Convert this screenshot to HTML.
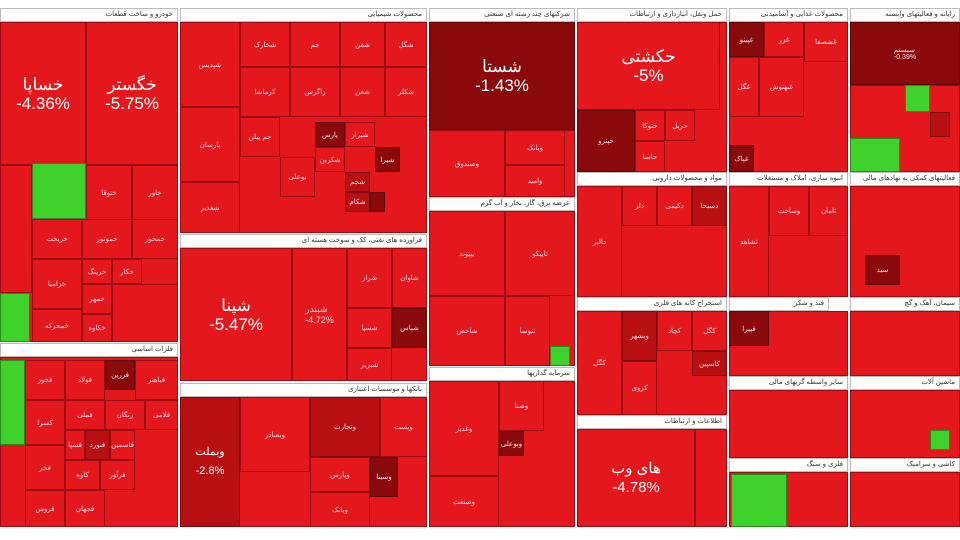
<!DOCTYPE html>
<html><head><meta charset="utf-8"><style>
body{margin:0;width:960px;height:540px;background:#fff;position:relative;overflow:hidden;font-family:"Liberation Sans","Noto Sans CJK SC",sans-serif}
div{position:absolute;box-sizing:border-box}
.h{background:#fff;border:1px solid #bbb;font-size:7px;color:#333;text-align:right;padding-right:4px;line-height:12px;height:14px;direction:rtl}
.r{background:#e3171c;border:1px solid #9a0d10}
.d{background:#8a0a0c;border:1px solid #5a0506}
.m{background:#b80f13;border:1px solid #7a0a0c}
.g{background:#3fd22a;border:1px solid #2a8a1c}
.t{color:#fff;text-align:center;font-size:17px;line-height:19px;display:flex;align-items:center;justify-content:center;flex-direction:column}
.s{color:#fde;font-size:7px;display:flex;align-items:center;justify-content:center}
</style></head><body>
<!-- col1 -->
<div class="h" style="left:0;top:8px;width:178px">خودرو و ساخت قطعات</div>
<div class="r" style="left:0;top:22px;width:178px;height:320px"></div>
<div class="r t" style="left:0;top:22px;width:86px;height:143px">خساپا<br>-4.36%</div>
<div class="r t" style="left:86px;top:22px;width:92px;height:143px">خگستر<br>-5.75%</div>
<div class="r" style="left:0;top:165px;width:32px;height:128px"></div>
<div class="g" style="left:32px;top:163px;width:54px;height:56px"></div>
<div class="r s" style="left:86px;top:165px;width:46px;height:55px">ختوقا</div>
<div class="r s" style="left:132px;top:165px;width:46px;height:55px">خاور</div>
<div class="r s" style="left:32px;top:219px;width:50px;height:40px">خریخت</div>
<div class="r s" style="left:82px;top:219px;width:50px;height:40px">خموتور</div>
<div class="r s" style="left:132px;top:219px;width:46px;height:40px">خمحور</div>
<div class="r s" style="left:32px;top:259px;width:50px;height:50px">خزامیا</div>
<div class="r s" style="left:82px;top:259px;width:30px;height:25px">خرینگ</div>
<div class="r s" style="left:112px;top:259px;width:30px;height:25px">خکار</div>
<div class="r s" style="left:82px;top:284px;width:30px;height:30px">خمهر</div>
<div class="r s" style="left:32px;top:309px;width:50px;height:33px">خمحرکه</div>
<div class="r s" style="left:82px;top:314px;width:30px;height:28px">خکاوه</div>
<div class="r" style="left:112px;top:284px;width:66px;height:58px"></div>
<div class="g" style="left:0;top:293px;width:30px;height:49px"></div>
<div class="h" style="left:0;top:343px;width:178px">فلزات اساسی</div>
<div class="r" style="left:0;top:357px;width:178px;height:170px"></div>
<div class="g" style="left:0;top:360px;width:25px;height:85px"></div>
<div class="r s" style="left:25px;top:360px;width:40px;height:40px">فخوز</div>
<div class="r s" style="left:65px;top:360px;width:40px;height:40px">فولاد</div>
<div class="d s" style="left:105px;top:360px;width:30px;height:30px">فزرین</div>
<div class="r s" style="left:135px;top:360px;width:43px;height:40px">فباهنر</div>
<div class="r s" style="left:25px;top:400px;width:40px;height:45px">کسرا</div>
<div class="r s" style="left:65px;top:400px;width:40px;height:30px">فملی</div>
<div class="r s" style="left:105px;top:400px;width:40px;height:30px">زنگان</div>
<div class="r s" style="left:145px;top:400px;width:33px;height:30px">فلامی</div>
<div class="r s" style="left:25px;top:445px;width:40px;height:45px">فجر</div>
<div class="r s" style="left:65px;top:430px;width:20px;height:30px">فسپا</div>
<div class="m s" style="left:85px;top:430px;width:25px;height:30px">فنورد</div>
<div class="r s" style="left:110px;top:430px;width:25px;height:30px">فاسمین</div>
<div class="r s" style="left:65px;top:460px;width:35px;height:30px">کاوه</div>
<div class="r s" style="left:100px;top:460px;width:35px;height:30px">فرآور</div>
<div class="r s" style="left:25px;top:490px;width:40px;height:37px">فروس</div>
<div class="r s" style="left:65px;top:490px;width:40px;height:37px">فجهان</div>
<!-- col2 -->
<div class="h" style="left:180px;top:8px;width:247px">محصولات شیمیایی</div>
<div class="r" style="left:180px;top:22px;width:247px;height:211px"></div>
<div class="r s" style="left:180px;top:22px;width:60px;height:85px">شپدیس</div>
<div class="r s" style="left:240px;top:22px;width:50px;height:45px">شخارک</div>
<div class="r s" style="left:290px;top:22px;width:50px;height:45px">جم</div>
<div class="r s" style="left:340px;top:22px;width:45px;height:45px">شفن</div>
<div class="r s" style="left:385px;top:22px;width:42px;height:45px">شگل</div>
<div class="r s" style="left:240px;top:67px;width:50px;height:50px">کرماشا</div>
<div class="r s" style="left:290px;top:67px;width:50px;height:50px">زاگرس</div>
<div class="r s" style="left:340px;top:67px;width:45px;height:50px">شفن</div>
<div class="r s" style="left:385px;top:67px;width:42px;height:50px">شکلر</div>
<div class="r s" style="left:180px;top:107px;width:60px;height:75px">پارسان</div>
<div class="r s" style="left:240px;top:117px;width:40px;height:40px">جم پیلن</div>
<div class="d s" style="left:315px;top:122px;width:30px;height:25px">پارس</div>
<div class="r s" style="left:345px;top:122px;width:30px;height:25px">شیراز</div>
<div class="d s" style="left:375px;top:147px;width:25px;height:25px">شیرا</div>
<div class="r s" style="left:315px;top:147px;width:30px;height:25px">شکربن</div>
<div class="r s" style="left:180px;top:182px;width:60px;height:51px">شغدیر</div>
<div class="r s" style="left:280px;top:157px;width:35px;height:40px">بوعلی</div>
<div class="m s" style="left:345px;top:172px;width:25px;height:20px">شجم</div>
<div class="m s" style="left:345px;top:192px;width:25px;height:20px">شکام</div>
<div class="d" style="left:370px;top:192px;width:15px;height:20px"></div>
<div class="h" style="left:180px;top:234px;width:247px">فراورده های نفتی، کک و سوخت هسته ای</div>
<div class="r" style="left:180px;top:248px;width:247px;height:133px"></div>
<div class="r t" style="left:180px;top:248px;width:112px;height:133px">شپنا<br>-5.47%</div>
<div class="r s" style="left:292px;top:248px;width:55px;height:133px;font-size:9px">شبندر<br>-4.72%</div>
<div class="r s" style="left:347px;top:248px;width:45px;height:60px">شراز</div>
<div class="r s" style="left:392px;top:248px;width:35px;height:60px">شاوان</div>
<div class="r s" style="left:347px;top:308px;width:45px;height:40px">شسپا</div>
<div class="d s" style="left:392px;top:308px;width:35px;height:40px">شپاس</div>
<div class="r s" style="left:347px;top:348px;width:45px;height:33px">شبریز</div>
<div class="h" style="left:180px;top:383px;width:247px">بانکها و موسسات اعتباری</div>
<div class="r" style="left:180px;top:397px;width:247px;height:130px"></div>
<div class="m t" style="left:180px;top:397px;width:60px;height:130px;font-size:11px">وبملت<br>-2.8%</div>
<div class="r s" style="left:240px;top:397px;width:70px;height:75px">وبصادر</div>
<div class="m s" style="left:310px;top:397px;width:70px;height:60px">وتجارت</div>
<div class="r s" style="left:380px;top:397px;width:47px;height:60px">وپست</div>
<div class="r s" style="left:310px;top:457px;width:60px;height:35px">وپارس</div>
<div class="d s" style="left:370px;top:457px;width:28px;height:40px">وسینا</div>
<div class="r s" style="left:310px;top:492px;width:60px;height:35px">وبانک</div>
<!-- col3 -->
<div class="h" style="left:429px;top:8px;width:146px">شرکتهای چند رشته ای صنعتی</div>
<div class="d t" style="left:429px;top:22px;width:146px;height:108px">شستا<br>-1.43%</div>
<div class="r" style="left:429px;top:130px;width:146px;height:67px"></div>
<div class="r s" style="left:429px;top:130px;width:76px;height:67px">وصندوق</div>
<div class="r s" style="left:505px;top:130px;width:60px;height:35px">وبانک</div>
<div class="r s" style="left:505px;top:165px;width:60px;height:32px">وامید</div>
<div class="h" style="left:429px;top:197px;width:146px">عرضه برق، گاز، بخار و آب گرم</div>
<div class="r" style="left:429px;top:211px;width:146px;height:155px"></div>
<div class="r s" style="left:429px;top:211px;width:76px;height:85px">بپیوند</div>
<div class="r s" style="left:505px;top:211px;width:70px;height:85px">تاپیکو</div>
<div class="r s" style="left:429px;top:296px;width:76px;height:70px">شاخص</div>
<div class="r s" style="left:505px;top:296px;width:45px;height:70px">ثنوسا</div>
<div class="g" style="left:550px;top:346px;width:20px;height:20px"></div>
<div class="h" style="left:429px;top:367px;width:146px">سرمایه گذاریها</div>
<div class="r" style="left:429px;top:381px;width:146px;height:146px"></div>
<div class="r s" style="left:429px;top:381px;width:70px;height:95px">وغدیر</div>
<div class="r s" style="left:499px;top:381px;width:45px;height:50px">وصنا</div>
<div class="d s" style="left:499px;top:431px;width:25px;height:25px">وبوعلی</div>
<div class="r s" style="left:429px;top:476px;width:70px;height:51px">وصنعت</div>
<!-- col4 -->
<div class="h" style="left:577px;top:8px;width:150px">حمل ونقل، انبارداری و ارتباطات</div>
<div class="r" style="left:577px;top:22px;width:150px;height:150px"></div>
<div class="r t" style="left:577px;top:22px;width:143px;height:88px">حکشتی<br>-5%</div>
<div class="d s" style="left:577px;top:110px;width:58px;height:62px">حپترو</div>
<div class="r s" style="left:635px;top:110px;width:30px;height:31px">حتوکا</div>
<div class="r s" style="left:665px;top:110px;width:30px;height:31px">حریل</div>
<div class="r s" style="left:635px;top:141px;width:30px;height:31px">حاسا</div>
<div class="h" style="left:577px;top:172px;width:150px">مواد و محصولات دارویی</div>
<div class="r" style="left:577px;top:186px;width:150px;height:111px"></div>
<div class="r s" style="left:577px;top:186px;width:45px;height:111px">دالبر</div>
<div class="r s" style="left:622px;top:186px;width:35px;height:40px">دلر</div>
<div class="r s" style="left:657px;top:186px;width:35px;height:40px">دکیمی</div>
<div class="m s" style="left:692px;top:186px;width:35px;height:40px">دسبحا</div>
<div class="h" style="left:577px;top:297px;width:150px">استخراج کانه های فلزی</div>
<div class="r" style="left:577px;top:311px;width:150px;height:104px"></div>
<div class="r s" style="left:577px;top:311px;width:45px;height:104px">کگل</div>
<div class="m s" style="left:622px;top:311px;width:35px;height:50px">وبشهر</div>
<div class="r s" style="left:657px;top:311px;width:35px;height:40px">کچاد</div>
<div class="r s" style="left:692px;top:311px;width:35px;height:40px">کگل</div>
<div class="r s" style="left:622px;top:361px;width:35px;height:54px">کروی</div>
<div class="m s" style="left:692px;top:351px;width:35px;height:25px">کاسپین</div>
<div class="h" style="left:577px;top:415px;width:150px">اطلاعات و ارتباطات</div>
<div class="r t" style="left:577px;top:429px;width:118px;height:98px;font-size:15px">های وب<br>-4.78%</div>
<div class="r" style="left:695px;top:429px;width:32px;height:98px"></div>
<!-- col5 -->
<div class="h" style="left:729px;top:8px;width:119px">محصولات غذایی و آشامیدنی</div>
<div class="r" style="left:729px;top:22px;width:119px;height:150px"></div>
<div class="d s" style="left:729px;top:22px;width:35px;height:35px">غپینو</div>
<div class="r s" style="left:764px;top:22px;width:40px;height:35px">غزر</div>
<div class="r s" style="left:804px;top:22px;width:44px;height:40px">غشصفا</div>
<div class="r s" style="left:729px;top:57px;width:30px;height:60px">غگل</div>
<div class="r s" style="left:759px;top:57px;width:45px;height:60px">غبهنوش</div>
<div class="d s" style="left:729px;top:145px;width:25px;height:27px">غپاک</div>
<div class="h" style="left:729px;top:172px;width:119px">انبوه سازی، املاک و مستغلات</div>
<div class="r" style="left:729px;top:186px;width:119px;height:111px"></div>
<div class="r s" style="left:729px;top:186px;width:40px;height:111px">ثشاهد</div>
<div class="r s" style="left:769px;top:186px;width:40px;height:50px">وساخت</div>
<div class="r s" style="left:809px;top:186px;width:39px;height:50px">ثامان</div>
<div class="h" style="left:729px;top:297px;width:100px">قند و شکر</div>
<div class="r" style="left:729px;top:311px;width:119px;height:65px"></div>
<div class="d s" style="left:729px;top:311px;width:40px;height:35px">قپیرا</div>
<div class="h" style="left:729px;top:376px;width:119px">سایر واسطه گریهای مالی</div>
<div class="r" style="left:729px;top:390px;width:119px;height:68px"></div>
<div class="h" style="left:729px;top:458px;width:119px">فلزی و سنگ</div>
<div class="r" style="left:729px;top:472px;width:119px;height:55px"></div>
<div class="g" style="left:731px;top:474px;width:56px;height:53px"></div>
<!-- col6 -->
<div class="h" style="left:850px;top:8px;width:110px">رایانه و فعالیتهای وابسته</div>
<div class="d s" style="left:850px;top:22px;width:110px;height:63px">سیستم<br>-0.39%</div>
<div class="r" style="left:850px;top:85px;width:110px;height:87px"></div>
<div class="g" style="left:905px;top:85px;width:25px;height:27px"></div>
<div class="g" style="left:850px;top:138px;width:50px;height:34px"></div>
<div class="m" style="left:930px;top:112px;width:20px;height:25px"></div>
<div class="h" style="left:850px;top:172px;width:110px">فعالیتهای کمکی به نهادهای مالی</div>
<div class="r" style="left:850px;top:186px;width:110px;height:111px"></div>
<div class="d s" style="left:865px;top:255px;width:35px;height:30px">سید</div>
<div class="h" style="left:850px;top:297px;width:110px">سیمان، آهک و گچ</div>
<div class="r" style="left:850px;top:311px;width:110px;height:65px"></div>
<div class="h" style="left:850px;top:376px;width:110px">ماشین آلات</div>
<div class="r" style="left:850px;top:390px;width:110px;height:68px"></div>
<div class="g" style="left:930px;top:430px;width:20px;height:20px"></div>
<div class="h" style="left:850px;top:458px;width:110px">کاشی و سرامیک</div>
<div class="r" style="left:850px;top:472px;width:110px;height:55px"></div>
</body></html>
